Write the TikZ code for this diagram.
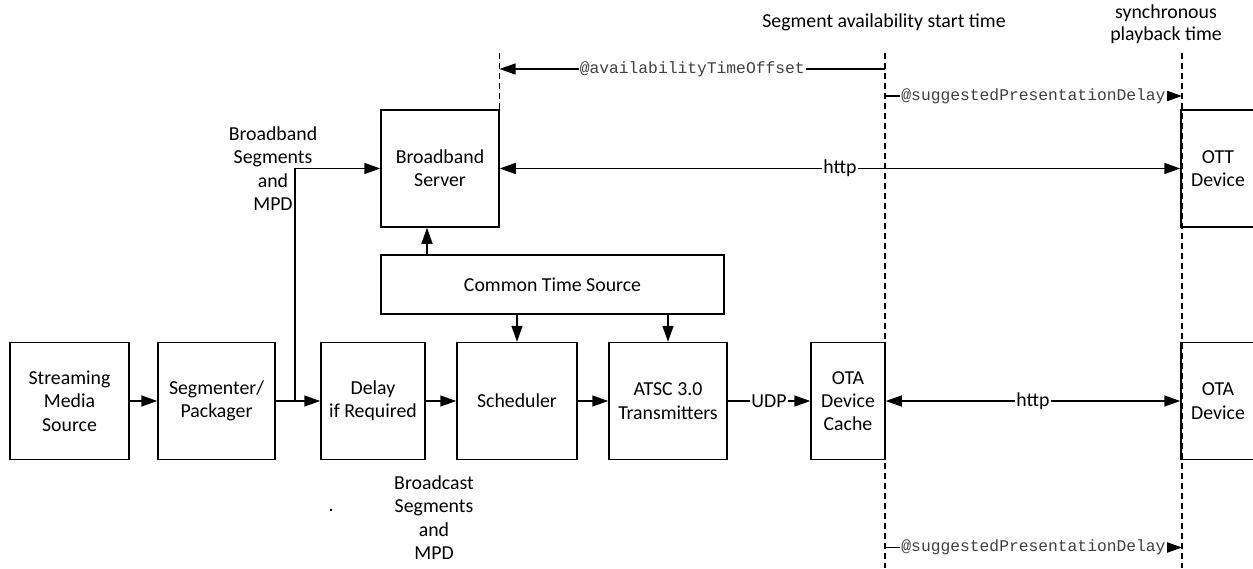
\documentclass[tikz,border=0pt]{standalone}
\usepackage{fontspec}
\setmainfont{Carlito}
\newfontfamily\codefont{Liberation Mono}
\usepackage{tikz}
\usetikzlibrary{arrows.meta}
\tikzset{
    bloc/.style = {draw, align=center, inner sep=0pt},
    attr/.style = {font=\codefont\fontsize{16.3}{18}\selectfont, text=black!75, fill=white, inner sep=1pt},
    lien/.style = {fill=white, inner sep=1pt},
    temps/.style = {dash pattern=on 6pt off 4pt, line width=1.1pt},
    >={Triangle[length=16pt, width=11pt]}
}

\begin{document}
\begin{tikzpicture}[x=1pt, y=-1pt, line width=1.5pt, font=\fontsize{19.8}{23.3}\selectfont]
                \useasboundingbox (0,0) rectangle (1253,568);
                \node (src) [bloc, minimum width=119, minimum height=117] at (69.5, 401) {Streaming\\Media\\Source};
                \node (seg) [bloc, minimum width=117, minimum height=117] at (216.5, 401) {Segmenter/\\Packager};
                \node (delay) [bloc, minimum width=104, minimum height=117] at (373, 401) {Delay\\if Required};
                \node (sched) [bloc, minimum width=120, minimum height=117] at (517, 401) {Scheduler};
                \node (atsc) [bloc, minimum width=118, minimum height=117] at (668, 401) {ATSC 3.0\\Transmitters};
                \node (cache) [bloc, minimum width=74, minimum height=117] at (848, 401) {OTA\\Device\\Cache};
                \node (ota) [bloc, minimum width=74, minimum height=117] at (1218, 401) {OTA\\Device};
                \node (bb) [bloc, minimum width=118, minimum height=117] at (440, 168.5) {Broadband\\Server};
                \node (ott) [bloc, minimum width=74, minimum height=117] at (1218, 168.5) {OTT\\Device};
                \node (cts) [bloc, minimum width=343, minimum height=59] at (552.5, 284.5) {Common Time Source};
                \node (bbtxt) [align=center] at (273, 168.5) {Broadband\\Segments\\and\\MPD};
                \node (bctxt) [align=center] at (434, 517.5) {Broadcast\\Segments\\and\\MPD};
                \node (dot) at (331, 510) {.};
                \path[->] (src) edge (seg)
                (seg) edge (delay)
                (delay) edge (sched)
                (sched) edge (atsc)
                (atsc) edge node[lien] {UDP} (cache);
                \coordinate (split) at (295, 401);
                \draw[->] (split) |- (bb.west);
                \draw[->] ([xshift=-13pt]bb.south |- cts.north) -- ([xshift=-13pt]bb.south);
                \draw[->] (sched.north |- cts.south) -- (sched.north);
                \draw[->] (atsc.north |- cts.south) -- (atsc.north);
                \path[<->] (bb) edge node[lien] {http} (ott)
                (cache) edge node[lien] {http} (ota);
                % lignes de temps
                \coordinate (tA) at (499.5, 53);
                \coordinate (tB) at (885, 53);
                \coordinate (tC) at (1182, 53);
                \draw[temps] (tA) -- (tA |- bb.north);
                \draw[temps] (tB) -- (885, 568);
                \draw[temps] (tC) -- (1182, 568);
                \node (tBtxt) at (884, 22) {Segment availability start time};
                \node (tCtxt) [align=center, font=\fontsize{19.8}{22}\selectfont] at (1166, 24) {synchronous\\playback time};
                \coordinate (ofs) at (885, 69);
                \coordinate (spd) at (885, 96);
                \coordinate (spdb) at (885, 547.5);
                \path[->, line width=1.2pt] (ofs) edge node[attr] {@availabilityTimeOffset} (ofs -| tA)
                (spd) edge node[attr] {@suggestedPresentationDelay} (spd -| tC)
                (spdb) edge node[attr] {@suggestedPresentationDelay} (spdb -| tC);
            \end{tikzpicture}
\end{document}
